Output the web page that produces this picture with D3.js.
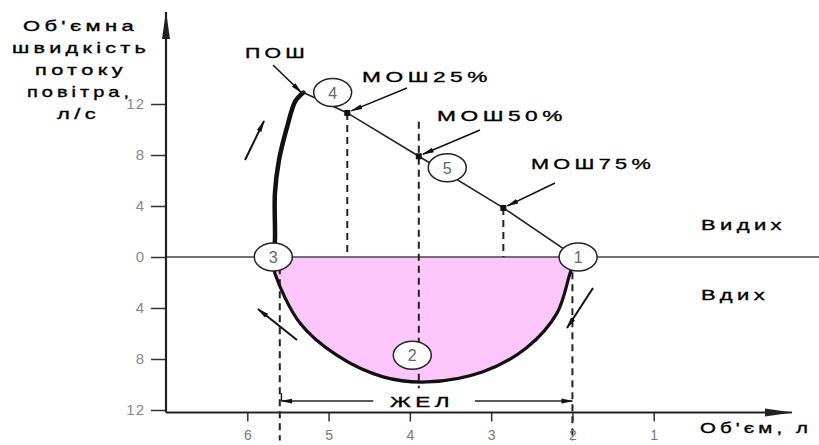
<!DOCTYPE html>
<html>
<head>
<meta charset="utf-8">
<script src="https://cdn.jsdelivr.net/npm/d3@7"></script>
<style>
  body { margin: 0; background: #fff; }
  text { font-family: "Liberation Sans", Arial, sans-serif; }
</style>
</head>
<body>
<script>
// flow-volume loop, values
let yTicks = [-12, -8, -4, 0, 4, 8, 12]
let xTicks = [6, 5, 4, 3, 2, 1]
// thick rise: point 3 up to peak flow
let riseVol = [5.68, 5.66, 5.66, 5.61, 5.51, 5.41, 5.31]
let riseFlow = [0, 1.3, 5.0, 7.6, 10.2, 12.2, 12.9]
// thin fall: peak to point 1
let fallVol = [5.31, 4.77, 3.89, 2.85, 1.96]
let fallFlow = [12.9, 11.3, 7.9, 3.85, 0]
// inspiration curve: point 1 down through 2 to 3
let inspVol = [1.96, 2.03, 2.19, 2.56, 3.1, 3.79, 4.33, 4.9, 5.35, 5.66, 5.7]
let inspFlow = [0, -1.3, -4.4, -7.1, -9.0, -9.8, -9.4, -7.7, -5.2, -1.3, 0]
// MOШ points
let mefNames = ["МОШ25%", "МОШ50%", "МОШ75%"]
let mefVol = [4.77, 3.89, 2.85]
let mefFlow = [11.3, 7.9, 3.85]
// numbered circles
let circNum = ["1", "2", "3", "4", "5"]
let circVol = [1.93, 3.97, 5.68, 4.95, 3.54]
let circFlow = [0, -7.7, 0, 12.9, 7.0]

let w = 819
let h = 445

let x = d3.scaleLinear().domain([7, 0]).range([166, 735])
let y = d3.scaleLinear().domain([-12, 12]).range([410, 104])

let svg = d3.select("body").append("svg")
    .attr("width", w)
    .attr("height", h)

let defs = svg.append("defs")
defs.append("marker")
    .attr("id", "ah")
    .attr("viewBox", "0 0 12 6")
    .attr("refX", 11).attr("refY", 3)
    .attr("markerWidth", 12).attr("markerHeight", 6)
    .attr("markerUnits", "userSpaceOnUse")
    .attr("orient", "auto")
    .append("path").attr("d", "M0,0.5 L12,3 L0,5.5 Z").attr("fill", "#111")
defs.append("marker")
    .attr("id", "axh")
    .attr("viewBox", "0 0 28 10")
    .attr("refX", 27).attr("refY", 5)
    .attr("markerWidth", 28).attr("markerHeight", 10)
    .attr("markerUnits", "userSpaceOnUse")
    .attr("orient", "auto")
    .append("path").attr("d", "M0,1 L28,5 L0,9 Z").attr("fill", "#222")

let axisY = y(-12.2)

// pink area of inspiration
let inspPts = inspVol.map((v, i) => [v, inspFlow[i]])
svg.append("path")
    .attr("d", d3.area().x(d => x(d[0])).y0(y(0)).y1(d => y(d[1])).curve(d3.curveCatmullRom)(inspPts))
    .attr("fill", "#fdc6fb")

// zero line
svg.append("line")
    .attr("x1", x(7)).attr("x2", w)
    .attr("y1", y(0)).attr("y2", y(0))
    .attr("stroke", "#444").attr("stroke-width", 1.5)

// dashed verticals
let dash = (v, f1, f2) => svg.append("line")
    .attr("x1", x(v)).attr("x2", x(v))
    .attr("y1", y(f1)).attr("y2", y(f2))
    .attr("stroke", "#222").attr("stroke-width", 2)
    .attr("stroke-dasharray", "7,5")
dash(mefVol[0], mefFlow[0], 0)
dash(mefVol[1], 10.6, -10.3)
dash(mefVol[2], mefFlow[2], 0)
dash(5.6, -0.8, -14.4)
dash(2.0, -1.2, -14.4)

// curves
svg.append("path")
    .attr("d", d3.line().x(d => x(d[0])).y(d => y(d[1])).curve(d3.curveCatmullRom)(riseVol.map((v, i) => [v, riseFlow[i]])))
    .attr("fill", "none").attr("stroke", "#111").attr("stroke-width", 4.5)
    .attr("stroke-linecap", "round")
svg.append("path")
    .attr("d", d3.line().x(d => x(d[0])).y(d => y(d[1]))(fallVol.map((v, i) => [v, fallFlow[i]])))
    .attr("fill", "none").attr("stroke", "#222").attr("stroke-width", 1.6)
svg.append("path")
    .attr("d", d3.line().x(d => x(d[0])).y(d => y(d[1])).curve(d3.curveCatmullRom)(inspPts))
    .attr("fill", "none").attr("stroke", "#111").attr("stroke-width", 3.2)

// axes
let gy = svg.append("g").attr("transform", `translate(${x(7)},0)`)
    .call(d3.axisLeft(y).tickValues(yTicks).tickSize(15).tickPadding(6).tickFormat(d => Math.abs(d)))
gy.select(".domain").remove()
gy.selectAll(".tick line").attr("stroke", "#333").attr("stroke-width", 1.5)
gy.selectAll(".tick text").attr("fill", "#888").style("font-size", "15px").style("letter-spacing", "1px")
svg.append("line")
    .attr("x1", x(7)).attr("x2", x(7))
    .attr("y1", axisY).attr("y2", 12)
    .attr("stroke", "#222").attr("stroke-width", 2.2)
    .attr("marker-end", "url(#axh)")

let gx = svg.append("g").attr("transform", `translate(0,${axisY})`)
    .call(d3.axisBottom(x).tickValues(xTicks).tickSize(9).tickPadding(9).tickFormat(d3.format("d")))
gx.select(".domain").remove()
gx.selectAll(".tick line").attr("stroke", "#333").attr("stroke-width", 1.5)
gx.selectAll(".tick text").attr("fill", "#777").style("font-size", "14px")
svg.append("line")
    .attr("x1", x(7)).attr("x2", x(-0.7))
    .attr("y1", axisY).attr("y2", axisY)
    .attr("stroke", "#222").attr("stroke-width", 2)
    .attr("marker-end", "url(#axh)")

// labels: wide glyphs with wide spacing, like the original lettering
let lab = (t, lx, ly, len) => svg.append("text")
    .attr("x", lx).attr("y", ly)
    .style("font-size", "15px").style("letter-spacing", "3px")
    .attr("textLength", len).attr("lengthAdjust", "spacingAndGlyphs")
    .attr("stroke", "#000").attr("stroke-width", 0.35)
    .text(t)

// ЖЕЛ bracket
let brY = y(-11.3)
svg.append("line").attr("x1", x(5.58)).attr("x2", x(5.58)).attr("y1", brY - 8).attr("y2", brY)
    .attr("stroke", "#222").attr("stroke-width", 1.5)
svg.append("line").attr("x1", x(4.45)).attr("x2", x(5.58)).attr("y1", brY).attr("y2", brY)
    .attr("stroke", "#222").attr("stroke-width", 1.5).attr("marker-end", "url(#ah)")
svg.append("line").attr("x1", x(3.2)).attr("x2", x(2.0)).attr("y1", brY).attr("y2", brY)
    .attr("stroke", "#222").attr("stroke-width", 1.5).attr("marker-end", "url(#ah)")
lab("ЖЕЛ", x(3.85) - 32, brY + 6, 64)

// MOШ markers
mefVol.forEach((v, i) => {
    svg.append("rect")
        .attr("x", x(v) - 3).attr("y", y(mefFlow[i]) - 3)
        .attr("width", 6).attr("height", 6).attr("fill", "#111")
})

// pointer arrows
let arrow = (x1, y1, x2, y2, sw) => svg.append("line")
    .attr("x1", x1).attr("y1", y1).attr("x2", x2).attr("y2", y2)
    .attr("stroke", "#111").attr("stroke-width", sw || 1.5)
    .attr("marker-end", "url(#ah)")
arrow(273, 65, x(riseVol[6]) - 2, y(riseFlow[6]))
arrow(407, 88, x(mefVol[0]) + 4, y(mefFlow[0]) - 2)
arrow(480, 130, x(mefVol[1]) + 4, y(mefFlow[1]) - 2)
arrow(555, 183, x(mefVol[2]) + 4, y(mefFlow[2]) - 2)
arrow(245, 160, 264, 121, 2)
arrow(297, 340, 258, 309, 2)
arrow(593, 288, 567, 328, 2)

// numbered circles
circNum.forEach((n, i) => {
    svg.append("ellipse")
        .attr("cx", x(circVol[i])).attr("cy", y(circFlow[i]))
        .attr("rx", 19).attr("ry", 14)
        .attr("fill", "#fff").attr("stroke", "#222").attr("stroke-width", 1.5)
    svg.append("text")
        .attr("x", x(circVol[i])).attr("y", y(circFlow[i]) + 6)
        .attr("text-anchor", "middle").attr("fill", "#666").style("font-size", "16px")
        .text(n)
})

lab("ПОШ", 245, 58, 64)
lab(mefNames[0], 362, 82, 130)
lab(mefNames[1], 437, 121, 130)
lab(mefNames[2], 531, 169, 124)
lab("Видих", 701, 230, 85)
lab("Вдих", 701, 300, 68)
lab("Об'єм, л", 700, 433, 112)

let title = ["Об'ємна", "швидкість", "потоку", "повітра,", "л/с"]
let titleX = [23, 12, 35, 27, 57]
let titleW = [115, 138, 92, 106, 43]
title.forEach((t, i) => lab(t, titleX[i], 31 + i * 22, titleW[i]))
</script>
</body>
</html>
